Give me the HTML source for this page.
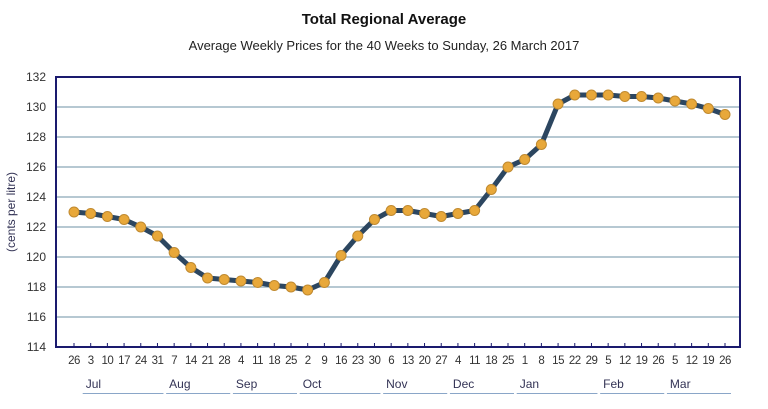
<!DOCTYPE html>
<html><head><meta charset="utf-8"><style>
body{margin:0;background:#fff;width:768px;height:404px;overflow:hidden;font-family:"Liberation Sans",Arial,sans-serif}
</style></head><body>
<svg width="768" height="404" id="c" xmlns="http://www.w3.org/2000/svg">
<text x="384" y="24" text-anchor="middle" font-size="15" font-weight="bold" fill="#111">Total Regional Average</text>
<text x="384" y="50" text-anchor="middle" font-size="13" fill="#222">Average Weekly Prices for the 40 Weeks to Sunday, 26 March 2017</text>
<text transform="translate(15,212) rotate(-90)" text-anchor="middle" font-size="12" fill="#335">(cents per litre)</text>
<g id="grid"></g><g id="marks"></g>
</svg>
<script>
const days=[26,3,10,17,24,31,7,14,21,28,4,11,18,25,2,9,16,23,30,6,13,20,27,4,11,18,25,1,8,15,22,29,5,12,19,26,5,12,19,26];
const prices=[123.0,122.9,122.7,122.5,122.0,121.4,120.3,119.3,118.6,118.5,118.4,118.3,118.1,118.0,117.8,118.3,120.1,121.4,122.5,123.1,123.1,122.9,122.7,122.9,123.1,124.5,126.0,126.5,127.5,130.2,130.8,130.8,130.8,130.7,130.7,130.6,130.4,130.2,129.9,129.5];
const yTicks=[114,116,118,120,122,124,126,128,130,132];
const months=["Jul","Aug","Sep","Oct","Nov","Dec","Jan","Feb","Mar"];
const monthStart=[1,6,10,14,19,23,27,32,36];
const monthEnd=[5,9,13,18,22,26,31,35,39];
const NS="http://www.w3.org/2000/svg";
const L=56,R=740,T=77,B=347;
const x=i=>74+i*(725-74)/(days.length-1);
const y=v=>B-(v-114)*(B-T)/(132-114);
const grid=document.getElementById('grid'),marks=document.getElementById('marks');
function mk(p,tag,a){const e=document.createElementNS(NS,tag);for(const k in a)e.setAttribute(k,a[k]);p.appendChild(e);return e;}
yTicks.forEach(v=>{
 if(v>114&&v<132){const g=mk(grid,'line',{x1:L,x2:R,y1:y(v),y2:y(v),stroke:'#8aa6b8','stroke-width':1.2});
 
 }
 const t=mk(grid,'text',{x:L-10,y:y(v)+4,'text-anchor':'end','font-size':12,fill:'#333'});t.textContent=v;
 
 
});
const fr=mk(grid,'rect',{x:L,y:T,width:R-L,height:B-T,fill:'none',stroke:'#1a1a6e','stroke-width':2});


days.forEach((d,i)=>{
 mk(grid,'line',{x1:x(i),x2:x(i),y1:B-4,y2:B,stroke:'#1a1a6e','stroke-width':1});
 const t=mk(grid,'text',{x:x(i),y:364,'text-anchor':'middle','font-size':11.5,fill:'#333','letter-spacing':'-0.5'});t.textContent=d;
 
 
});
months.forEach((m,k)=>{
 const x1=x(monthStart[k])-8,x2=x(monthEnd[k])+6;
 const t=mk(grid,'text',{x:x1+3,y:388,'font-size':12,fill:'#335'});t.textContent=m;
 
 
 const u=mk(grid,'line',{x1:x1,x2:x2,y1:393.5,y2:393.5,stroke:'#8aa6c8','stroke-width':1});
 
 
});
const pl=mk(marks,'polyline',{points:prices.map((v,i)=>x(i)+','+y(v)).join(' '),fill:'none',stroke:'#2c4660','stroke-width':5,'stroke-linejoin':'round'});


prices.forEach((v,i)=>{
 const c=mk(marks,'circle',{cx:x(i),cy:y(v),r:5,fill:'#e8a83a',stroke:'#c08a30','stroke-width':1});
 
 
});
</script>
</body></html>
